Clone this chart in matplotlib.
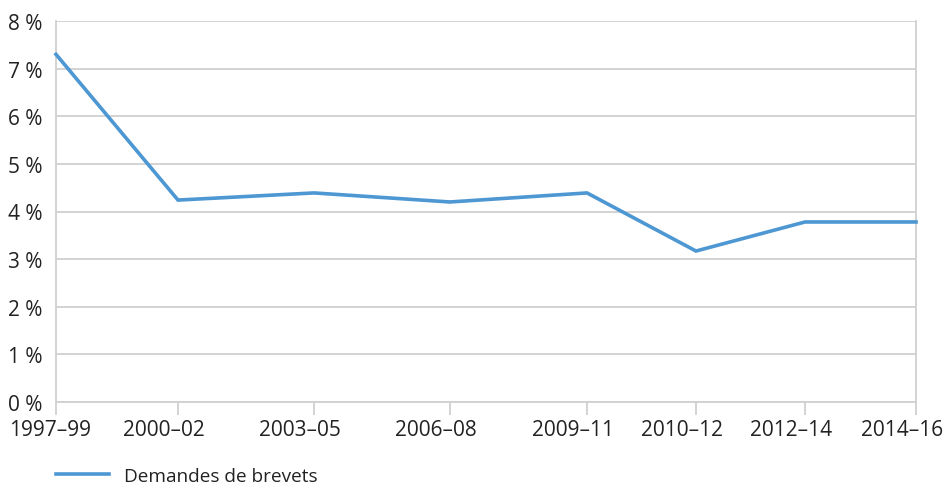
import matplotlib
matplotlib.use("Agg")
import matplotlib.pyplot as plt
from matplotlib.ticker import FuncFormatter
from matplotlib.transforms import ScaledTranslation

plt.rcParams["font.family"] = ["Open Sans", "DejaVu Sans"]

# Data
periods = ["1997–99", "2000–02", "2003–05", "2006–08", "2009–11", "2010–12", "2012–14", "2014–16"]
tick_positions = [0, 122, 258, 394, 531, 640, 749, 860]
demandes = [7.3, 4.24, 4.39, 4.2, 4.39, 3.17, 3.78, 3.78]
series_label = "Demandes de brevets"

line_color = "#4D97D3"
grid_color = "#D0D0D0"
text_color = "#222222"

fig = plt.figure(figsize=(9.44, 4.85), dpi=100)
ax = fig.add_axes([56 / 944, 82 / 485, 860 / 944, 381 / 485])

ax.plot(tick_positions, demandes, color=line_color, linewidth=2.6,
        solid_joinstyle="miter", label=series_label, clip_on=False, zorder=3)

ax.set_xlim(tick_positions[0], tick_positions[-1])
ax.set_ylim(0, 8)
ax.set_yticks(range(0, 9))
ax.yaxis.set_major_formatter(FuncFormatter(lambda v, p: f"{int(v)} %"))
ax.set_xticks(tick_positions)
ax.set_xticklabels(periods)

ax.grid(axis="y", color=grid_color, linewidth=1.3)
ax.set_axisbelow(True)

ax.spines["top"].set_visible(False)
for side in ["left", "right", "bottom"]:
    ax.spines[side].set_color(grid_color)
    ax.spines[side].set_linewidth(1.3)

ax.tick_params(axis="y", length=0, pad=10, labelsize=15, labelcolor=text_color)
ax.tick_params(axis="x", length=9, width=1.3, color=grid_color, pad=3,
               labelsize=15, labelcolor=text_color)

# x labels sit slightly left of their ticks; the first one is kept inside the figure
for i, lbl in enumerate(ax.get_xticklabels()):
    dx = -6 if i == 0 else -14
    lbl.set_transform(lbl.get_transform() + ScaledTranslation(dx / 100, 0, fig.dpi_scale_trans))

leg = ax.legend(loc="upper left", bbox_to_anchor=(-0.009, -0.15), frameon=False,
                fontsize=13.7, handlelength=2.8, handletextpad=0.8, borderaxespad=0)
for t in leg.get_texts():
    t.set_color(text_color)

fig.savefig("out.png", dpi=100)
